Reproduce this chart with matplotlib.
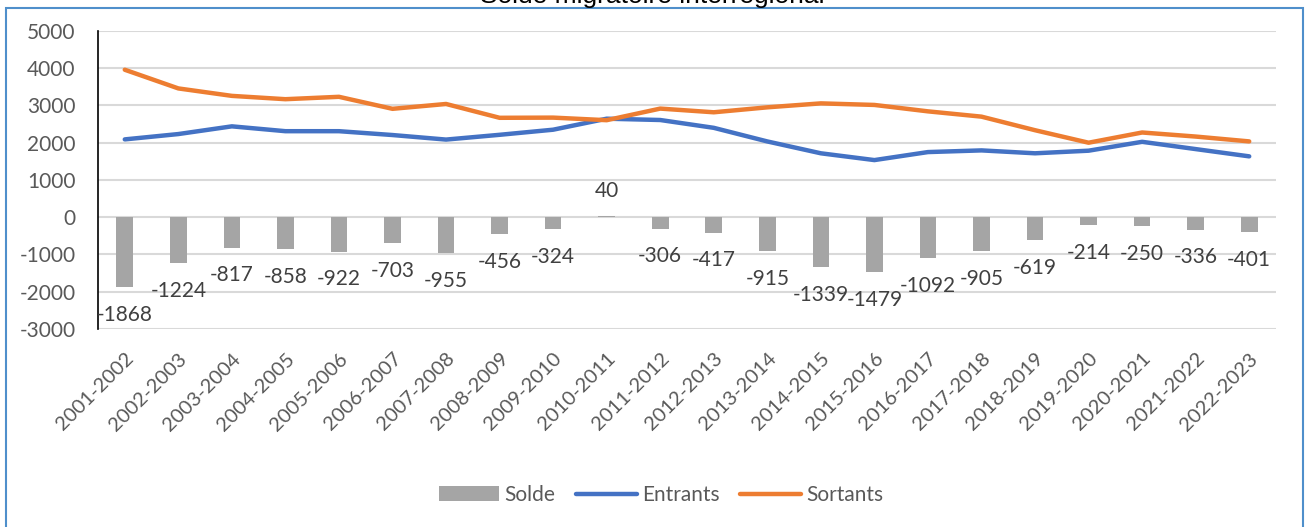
import numpy as np
import matplotlib
matplotlib.use('Agg')
import matplotlib.pyplot as plt
from matplotlib.patches import Rectangle

# 年份区间
periodes = ['2001-2002', '2002-2003', '2003-2004', '2004-2005', '2005-2006',
            '2006-2007', '2007-2008', '2008-2009', '2009-2010', '2010-2011',
            '2011-2012', '2012-2013', '2013-2014', '2014-2015', '2015-2016',
            '2016-2017', '2017-2018', '2018-2019', '2019-2020', '2020-2021',
            '2021-2022', '2022-2023']

solde = [-1868, -1224, -817, -858, -922, -703, -955, -456, -324, 40, -306,
         -417, -915, -1339, -1479, -1092, -905, -619, -214, -250, -336, -401]

entrants = [2085, 2228, 2435, 2305, 2305, 2202, 2080, 2208, 2345, 2640, 2605,
            2395, 2030, 1712, 1530, 1745, 1790, 1712, 1782, 2020, 1825, 1630]

sortants = [3953, 3452, 3252, 3163, 3227, 2905, 3035, 2664, 2669, 2600, 2911,
            2812, 2945, 3051, 3009, 2837, 2695, 2331, 1996, 2270, 2161, 2031]

yticks = [-3000, -2000, -1000, 0, 1000, 2000, 3000, 4000, 5000]

plt.rcParams['font.family'] = ['Lato', 'DejaVu Sans']

W, H = 1305, 527
fig = plt.figure(figsize=(W / 100, H / 100), dpi=100)
ax = fig.add_axes([98 / W, 1 - 329 / H, (1276 - 98) / W, (329 - 30.7) / H])

x = np.arange(len(periodes))
txt_color = '#595959'

bars = ax.bar(x, solde, width=0.31, color='#a5a5a5', label='Solde', zorder=2)
l1, = ax.plot(x, entrants, color='#4472c4', lw=3.2, label='Entrants', zorder=3,
              solid_capstyle='round')
l2, = ax.plot(x, sortants, color='#ed7d31', lw=3.2, label='Sortants', zorder=3,
              solid_capstyle='round')

# 数据标签
for xi, v in zip(x, solde):
    off = 18 if v > 0 else -20
    ax.annotate(f'{v}', xy=(xi, v), xytext=(0, off), textcoords='offset points',
                ha='center', va='center', fontsize=15, color='#404040')

ax.set_xlim(-0.5, len(periodes) - 0.5)
ax.set_ylim(-3000, 5000)
ax.set_yticks(yticks)
ax.set_yticklabels([str(t) for t in yticks], fontsize=15, color=txt_color)
ax.set_xticks(x)
ax.set_xticklabels(periodes, rotation=45, ha='right', rotation_mode='anchor',
                   fontsize=14.5, color=txt_color)
ax.tick_params(axis='both', length=0)
ax.tick_params(axis='y', pad=16)
ax.tick_params(axis='x', pad=15)

ax.grid(axis='y', color='#d9d9d9', lw=1.5, zorder=0)
ax.set_axisbelow(True)
for s in ['top', 'right', 'bottom']:
    ax.spines[s].set_visible(False)
ax.spines['left'].set_color('black')
ax.spines['left'].set_linewidth(1.2)

fig.text(0.5, 1 - 3 / H, 'Solde migratoire interrégional', ha='center',
         va='baseline', fontsize=19, family=['Liberation Sans', 'DejaVu Sans'])

leg = fig.legend([bars, l1, l2], ['Solde', 'Entrants', 'Sortants'],
                 loc='center', bbox_to_anchor=(661 / W, 1 - 495 / H), ncol=3,
                 frameon=False, fontsize=15, handlelength=2.9,
                 handletextpad=0.25, columnspacing=1.0)
for t in leg.get_texts():
    t.set_color(txt_color)

# 外框
fig.patches.append(Rectangle((6 / W, -0.05), (1303 - 6) / W, 1 - 8 / H + 0.05,
                             transform=fig.transFigure, fill=False,
                             edgecolor='#4f8fcb', lw=1.5))

fig.savefig('out.png', dpi=100)
